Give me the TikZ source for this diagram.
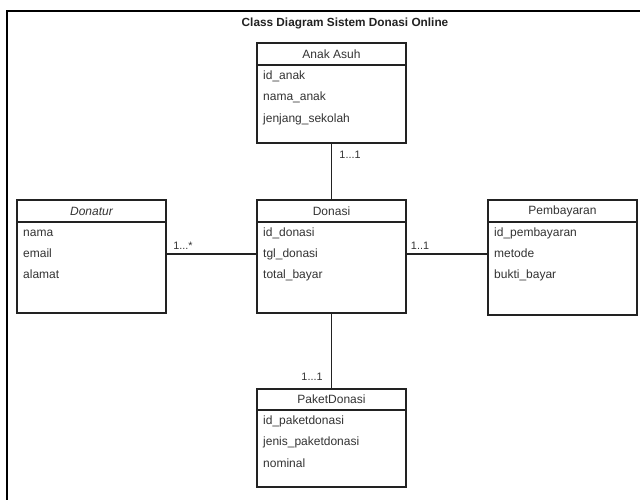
\documentclass[tikz,border=0pt]{standalone}
\usepackage{fontspec}
\setmainfont{Liberation Sans}
\definecolor{umlcolor0000}{RGB}{255,255,255}
\definecolor{umlcolor0001}{RGB}{34,34,34}
\definecolor{umlcolor0002}{RGB}{51,51,51}
\definecolor{umlcolor0003}{RGB}{0,0,0}

\begin{document}
\begin{tikzpicture}[yscale=-1
,font=\fontsize{12pt}{14pt}\selectfont
,pstyle1/.style={color=umlcolor0003,line width=1.6pt}
,pstyle2/.style={draw=umlcolor0001,fill=umlcolor0000,line width=1.5pt,anchor=north west,minimum width=149pt,inner sep=0pt,outer sep=0pt,text=umlcolor0002}
,pstyle3/.style={anchor=west,inner sep=0pt,text height=8.5pt,text depth=2.5pt,text=umlcolor0002}
,pstyle4/.style={color=umlcolor0001,line width=1.5pt}
,pstyle5/.style={text=umlcolor0002,font=\fontsize{10.8pt}{12pt}\selectfont}
]
\useasboundingbox (0pt,0pt) rectangle (640pt,499pt);
\fill[umlcolor0000] (0pt,0pt) rectangle (640pt,499pt);
\draw[pstyle1] (7pt,11pt) rectangle (660pt,520pt);
\node (title) at (345pt,23pt)[text=umlcolor0001,font=\fontsize{11.8pt}{14pt}\selectfont\bfseries]{Class Diagram Sistem Donasi Online};
% Anak Asuh
\node (anakhead) at (257pt,43pt)[pstyle2,minimum height=22pt]{Anak Asuh};
\node (anakbody) at (anakhead.south west)[pstyle2,minimum height=78pt]{};
\node (anakattr1) at (263pt,76.5pt)[pstyle3]{id\_anak};
\node (anakattr2) at (263pt,97.5pt)[pstyle3]{nama\_anak};
\node (anakattr3) at (263pt,119pt)[pstyle3]{jenjang\_sekolah};
% Donatur
\node (donaturhead) at (17pt,200pt)[pstyle2,minimum height=22pt]{\itshape Donatur};
\node (donaturbody) at (donaturhead.south west)[pstyle2,minimum height=91pt]{};
\node (donaturattr1) at (23pt,233.5pt)[pstyle3]{nama};
\node (donaturattr2) at (23pt,254pt)[pstyle3]{email};
\node (donaturattr3) at (23pt,275.5pt)[pstyle3]{alamat};
% Donasi
\node (donasihead) at (257pt,200pt)[pstyle2,minimum height=22pt]{Donasi};
\node (donasibody) at (donasihead.south west)[pstyle2,minimum height=91pt]{};
\node (donasiattr1) at (263pt,233.5pt)[pstyle3]{id\_donasi};
\node (donasiattr2) at (263pt,254pt)[pstyle3]{tgl\_donasi};
\node (donasiattr3) at (263pt,275.5pt)[pstyle3]{total\_bayar};
% Pembayaran
\node (bayarhead) at (488pt,200pt)[pstyle2,minimum height=22pt]{Pembayaran};
\node (bayarbody) at (bayarhead.south west)[pstyle2,minimum height=93pt]{};
\node (bayarattr1) at (494pt,233.5pt)[pstyle3]{id\_pembayaran};
\node (bayarattr2) at (494pt,254pt)[pstyle3]{metode};
\node (bayarattr3) at (494pt,275.5pt)[pstyle3]{bukti\_bayar};
% PaketDonasi
\node (pakethead) at (257pt,389pt)[pstyle2,minimum height=21pt]{PaketDonasi};
\node (paketbody) at (pakethead.south west)[pstyle2,minimum height=77pt]{};
\node (paketattr1) at (263pt,421.5pt)[pstyle3]{id\_paketdonasi};
\node (paketattr2) at (263pt,442.5pt)[pstyle3]{jenis\_paketdonasi};
\node (paketattr3) at (263pt,464pt)[pstyle3]{nominal};
% relasi
\draw[pstyle4] (anakbody.south) -- (donasihead.north);
\draw[pstyle4] (donaturattr2 -| donaturbody.east) -- (donasiattr2 -| donasibody.west);
\draw[pstyle4] (donasiattr2 -| donasibody.east) -- (bayarattr2 -| bayarbody.west);
\draw[pstyle4] (donasibody.south) -- (pakethead.north);
\node (multanak) at (350pt,155pt)[pstyle5]{1...1};
\node (multdonatur) at (183pt,246pt)[pstyle5]{1...*};
\node (multbayar) at (420pt,246pt)[pstyle5]{1..1};
\node (multpaket) at (312pt,377pt)[pstyle5]{1...1};
\end{tikzpicture}
\end{document}
